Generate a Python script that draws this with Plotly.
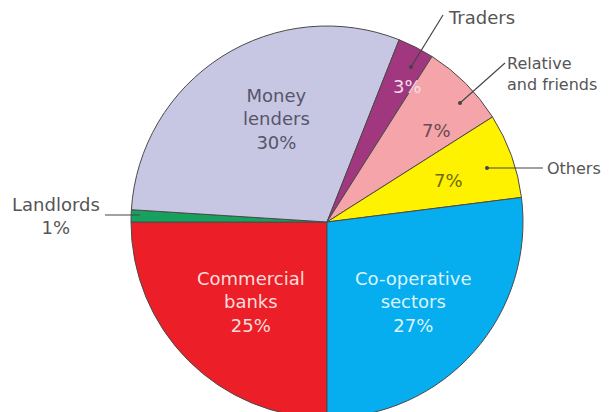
import plotly.graph_objects as go

labels = ["Commercial banks", "Landlords", "Money lenders", "Traders",
          "Relative and friends", "Others", "Co-operative sectors"]
values = [25, 1, 30, 3, 7, 7, 27]
colors = ["#ec1f28", "#16a25e", "#c8c7e3", "#a1377f", "#f5a4aa", "#fff200", "#06aeef"]

W, H = 612, 412
OFF = 8  # page body margin offset
def px(x):
    return (x - OFF) / W
def py(y):
    return 1 - (y - OFF) / H

fig = go.Figure(go.Pie(
    labels=labels, values=values, sort=False, direction="clockwise",
    rotation=180, textinfo="none", hoverinfo="label+percent",
    marker=dict(colors=colors, line=dict(color="#4a4a4a", width=1)),
    domain=dict(x=[px(131), px(523)], y=[py(418), py(26)]),
    showlegend=False,
))

FONT = "DejaVu Sans, Verdana, sans-serif"
ann = []
def txt(x, y, s, color, size=18, align="center", xanchor="center"):
    ann.append(dict(x=px(x), y=py(y), xref="paper", yref="paper", text=s,
                    showarrow=False, align=align, xanchor=xanchor, yanchor="middle",
                    font=dict(family=FONT, size=size, color=color)))

txt(276, 119, "Money<br>lenders<br>30%", "#55556a")
txt(251, 302, "Commercial<br>banks<br>25%", "#fbdcdc")
txt(413, 302, "Co-operative<br>sectors<br>27%", "#dcf3fd")
txt(407, 86, "3%", "#f3dcea")
txt(436, 131, "7%", "#6a4a4e")
txt(448, 181, "7%", "#6b6a10")
txt(56, 216, "Landlords<br>1%", "#555555")
txt(481, 18, "Traders", "#555555")
txt(505, 74, "Relative<br>and friends", "#555555", size=16, align="left", xanchor="left")
txt(545, 168, "Others", "#555555", size=16, xanchor="left")

shapes = []
lines = [((105, 215), (140, 215)), ((443, 15), (411, 67)),
         ((505, 63), (460, 103)), ((543, 168), (487, 168))]
for (x0, y0), (x1, y1) in lines:
    shapes.append(dict(type="line", xref="paper", yref="paper",
                       x0=px(x0), y0=py(y0), x1=px(x1), y1=py(y1),
                       line=dict(color="#444444", width=1.2)))
    if x0 > 300:
        r = 2
        shapes.append(dict(type="circle", xref="paper", yref="paper",
                           x0=px(x1 - r), x1=px(x1 + r), y0=py(y1 + r), y1=py(y1 - r),
                           fillcolor="#444444", line=dict(width=0)))

fig.update_layout(width=W, height=H, margin=dict(l=0, r=0, t=0, b=0),
                  paper_bgcolor="white", plot_bgcolor="white",
                  annotations=ann, shapes=shapes)
fig.write_html("out.html")
